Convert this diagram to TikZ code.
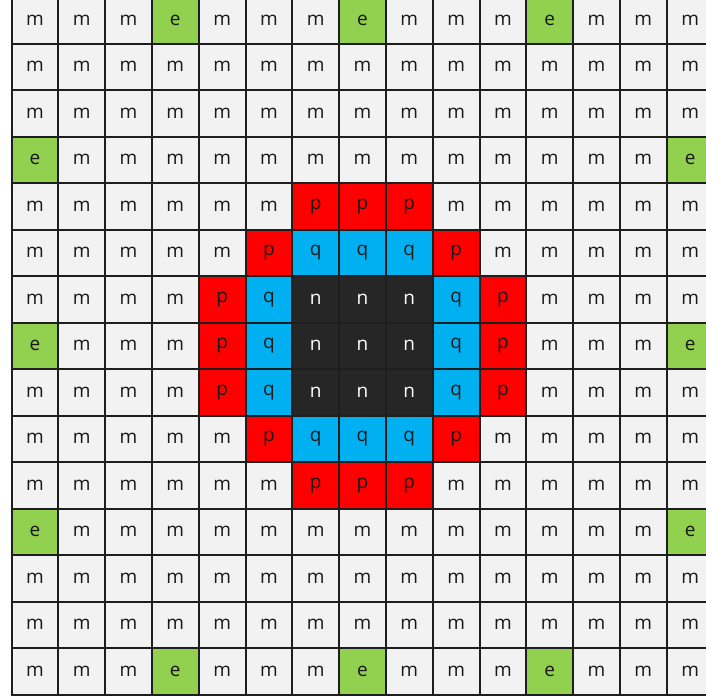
\documentclass[tikz,border=0pt]{standalone}
\usepackage{fontspec}
\setmainfont{Open Sans}
\usepackage{xcolor}
\definecolor{bgm}{HTML}{F2F2F2}
\definecolor{grn}{HTML}{92D050}
\definecolor{rd}{HTML}{FF0000}
\definecolor{blu}{HTML}{00B0F0}
\definecolor{drk}{HTML}{262626}
\definecolor{edge}{HTML}{1E1E1E}
\usetikzlibrary{positioning}
\tikzset{
  cell/.style={draw=edge,line width=1pt,minimum width=23.4pt,minimum height=23.25pt,
    inner sep=0pt,font=\fontsize{9.5}{10}\selectfont,text=black!90},
  cellm/.style={cell,fill=bgm},
  celle/.style={cell,fill=grn},
  cellp/.style={cell,fill=rd},
  cellq/.style={cell,fill=blu},
  celln/.style={cell,fill=drk,text=white},
}
\begin{document}
\begin{tikzpicture}[x=0.5pt,y=-0.5pt]
\useasboundingbox (0,0) rectangle (706,696);
% grid of 15 x 15 cells, row by row
\foreach \rowlist [count=\r from 0] in {
  {m,m,m,e,m,m,m,e,m,m,m,e,m,m,m},
  {m,m,m,m,m,m,m,m,m,m,m,m,m,m,m},
  {m,m,m,m,m,m,m,m,m,m,m,m,m,m,m},
  {e,m,m,m,m,m,m,m,m,m,m,m,m,m,e},
  {m,m,m,m,m,m,p,p,p,m,m,m,m,m,m},
  {m,m,m,m,m,p,q,q,q,p,m,m,m,m,m},
  {m,m,m,m,p,q,n,n,n,q,p,m,m,m,m},
  {e,m,m,m,p,q,n,n,n,q,p,m,m,m,e},
  {m,m,m,m,p,q,n,n,n,q,p,m,m,m,m},
  {m,m,m,m,m,p,q,q,q,p,m,m,m,m,m},
  {m,m,m,m,m,m,p,p,p,m,m,m,m,m,m},
  {e,m,m,m,m,m,m,m,m,m,m,m,m,m,e},
  {m,m,m,m,m,m,m,m,m,m,m,m,m,m,m},
  {m,m,m,m,m,m,m,m,m,m,m,m,m,m,m},
  {m,m,m,e,m,m,m,e,m,m,m,e,m,m,m}}{
  \foreach \c [count=\k from 0] in \rowlist {
    \node[cell\c] (c-\r-\k) at ({34.9+46.8*\k},{20.25+46.5*\r}) {\c};
  }
}
\end{tikzpicture}
\end{document}
